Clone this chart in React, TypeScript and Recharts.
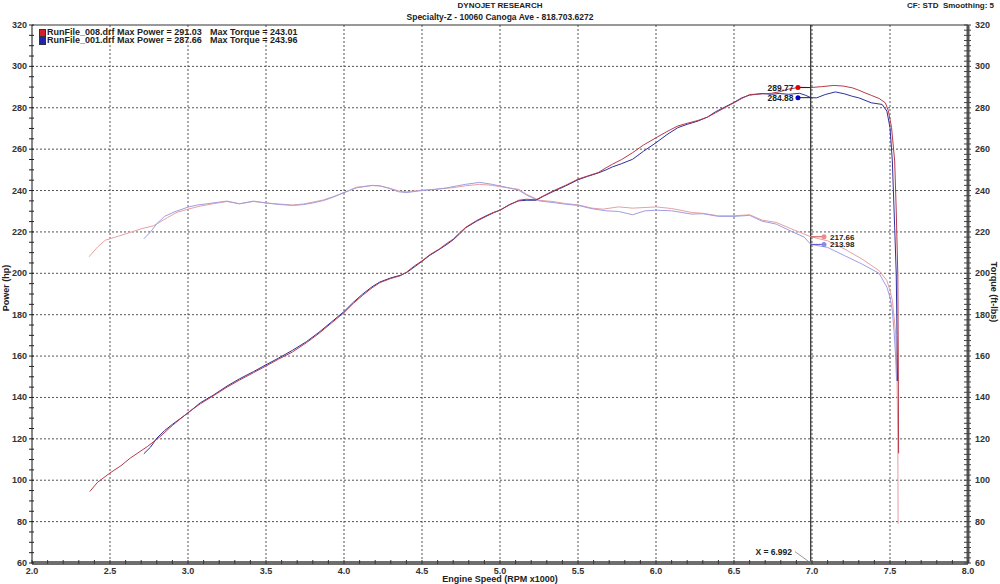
import React from "react";
import {
  LineChart,
  Line,
  XAxis,
  YAxis,
  CartesianGrid,
  ReferenceLine,
  ReferenceDot,
} from "recharts";

// run info
const RUN_NAMES = ["RunFile_008.drf", "RunFile_001.drf"];
const RUN_MAX_POWER = [291.03, 287.66];
const RUN_MAX_TORQUE = [243.01, 243.96];
const RUN_COLORS = ["#d41f2a", "#2323b0"];

const CURSOR_RPM = 6.992;
const CURSOR_POWER = [289.77, 284.88];
const CURSOR_TORQUE = [217.66, 213.98];

const X_LABELS = [2.0, 2.5, 3.0, 3.5, 4.0, 4.5, 5.0, 5.5, 6.0, 6.5, 7.0, 7.5, 8.0];
const Y_LABELS = [60, 80, 100, 120, 140, 160, 180, 200, 220, 240, 260, 280, 300, 320];

// [rpm x1000, hp]
const POWER_008 = [
  [2.37, 94.5], [2.42, 99], [2.5, 103.5], [2.57, 107], [2.63, 110.7], [2.74, 116.3],
  [2.82, 121], [2.9, 126.5], [3.0, 132.7], [3.08, 137], [3.16, 140.7], [3.25, 145],
  [3.33, 148.4], [3.42, 152], [3.5, 155.2], [3.58, 158.5], [3.67, 162], [3.76, 166.5],
  [3.84, 171], [3.92, 176], [4.0, 181], [4.06, 185.5], [4.12, 189.4], [4.18, 193],
  [4.23, 195.5], [4.3, 197.5], [4.36, 198.8], [4.4, 200.5], [4.45, 203.5], [4.5, 206],
  [4.55, 209], [4.61, 211.7], [4.66, 214.5], [4.7, 216.5], [4.74, 219.5], [4.78, 222.2],
  [4.85, 225.5], [4.91, 227.8], [4.96, 229.5], [5.0, 230.5], [5.06, 233], [5.12, 235.3],
  [5.17, 235.8], [5.23, 235.5], [5.28, 237.5], [5.34, 239.8], [5.42, 242.5], [5.5, 245.5],
  [5.56, 247], [5.63, 248.7], [5.68, 251], [5.72, 252.7], [5.78, 255], [5.85, 258.3],
  [5.92, 262], [6.0, 265.5], [6.07, 268.5], [6.14, 271.2], [6.2, 272.5], [6.27, 273.9],
  [6.33, 275.5], [6.38, 277.5], [6.44, 280], [6.5, 282.4], [6.55, 284.5], [6.6, 286.4],
  [6.68, 286.7], [6.74, 287], [6.79, 287.7], [6.85, 289], [6.92, 289.9], [6.992, 289.77],
  [7.06, 290.2], [7.14, 290.8], [7.2, 290.5], [7.26, 289.6], [7.3, 288.5], [7.34, 287.2],
  [7.38, 286], [7.43, 284.5], [7.47, 282.4], [7.49, 278.4], [7.51, 270.4], [7.53, 254.3],
  [7.54, 230.2], [7.55, 199.7], [7.553, 160], [7.555, 113],
];

const POWER_001 = [
  [2.717, 112.8], [2.76, 116], [2.8, 120.3], [2.85, 124], [2.9, 127], [3.0, 132.5],
  [3.08, 137.5], [3.16, 141], [3.25, 145.5], [3.33, 149], [3.42, 152.5], [3.5, 155.8],
  [3.58, 159], [3.67, 162.8], [3.76, 167], [3.84, 171.5], [3.92, 176.5], [4.0, 181.5],
  [4.06, 186], [4.12, 190], [4.18, 193.5], [4.23, 195.8], [4.3, 197.8], [4.36, 199],
  [4.4, 200.3], [4.45, 203], [4.5, 205.8], [4.55, 208.7], [4.61, 211.5], [4.66, 214],
  [4.7, 216.2], [4.74, 219], [4.78, 222], [4.85, 225.2], [4.91, 227.5], [4.96, 229.3],
  [5.0, 230.5], [5.06, 233.2], [5.12, 235], [5.17, 235.3], [5.23, 235.3], [5.28, 237.3],
  [5.34, 239.5], [5.42, 242.2], [5.5, 245.2], [5.56, 246.8], [5.63, 248.5], [5.68, 250],
  [5.72, 251.4], [5.78, 253], [5.85, 255.1], [5.92, 259], [6.0, 263.1], [6.07, 267],
  [6.14, 270.4], [6.2, 272], [6.27, 273.6], [6.33, 275.5], [6.38, 278], [6.44, 280.3],
  [6.5, 282.6], [6.55, 284.8], [6.6, 286.1], [6.68, 286.9], [6.74, 286.5], [6.79, 286.9],
  [6.85, 286.5], [6.92, 287], [6.96, 286], [6.992, 284.88], [7.03, 284.8], [7.085, 286.4],
  [7.15, 287.66], [7.21, 286.7], [7.26, 285.5], [7.3, 284.8], [7.38, 282.4], [7.45, 281.6],
  [7.48, 278.4], [7.5, 270.4], [7.515, 254.3], [7.53, 222.2], [7.54, 199.7], [7.545, 170],
  [7.548, 148],
];

// [rpm x1000, ft-lbs]
const TORQUE_008 = [
  [2.366, 208], [2.42, 212.7], [2.47, 216], [2.5, 216.7], [2.59, 218.8], [2.7, 221.5],
  [2.78, 223], [2.87, 227], [2.93, 229.5], [3.0, 231], [3.08, 232.5], [3.16, 233.6],
  [3.25, 234.7], [3.33, 233.6], [3.42, 234.7], [3.5, 234], [3.58, 233.5], [3.67, 233],
  [3.74, 233.5], [3.8, 234.4], [3.87, 235.5], [3.93, 237], [4.0, 239], [4.08, 241.6],
  [4.18, 242.4], [4.23, 242.2], [4.29, 241.2], [4.35, 239.8], [4.4, 239.4], [4.5, 240.2],
  [4.58, 240.6], [4.66, 241.1], [4.72, 241.6], [4.78, 242.3], [4.87, 243.0], [4.95, 242.5],
  [5.04, 241.4], [5.12, 240.6], [5.17, 238.2], [5.25, 235.3], [5.34, 234.7], [5.42, 233.7],
  [5.5, 233.1], [5.59, 231.5], [5.66, 231], [5.76, 232.1], [5.85, 231.5], [5.93, 231.8],
  [6.0, 232.1], [6.1, 231.3], [6.23, 229.4], [6.3, 229], [6.4, 227.8], [6.5, 227.8],
  [6.6, 228.3], [6.68, 225.7], [6.77, 224.6], [6.87, 221.4], [6.95, 219], [6.992, 217.66],
  [7.1, 215.7], [7.21, 211.7], [7.32, 206.9], [7.43, 201.3], [7.48, 196.5], [7.5, 191.6],
  [7.515, 187], [7.526, 179], [7.536, 171], [7.545, 150], [7.55, 120], [7.552, 79],
];

const TORQUE_001 = [
  [2.717, 216.7], [2.76, 220], [2.8, 224], [2.85, 227.5], [2.91, 229.6], [3.0, 232],
  [3.06, 233], [3.12, 233.6], [3.19, 234.3], [3.25, 234.9], [3.33, 233.6], [3.42, 234.9],
  [3.5, 234], [3.58, 233.3], [3.67, 232.8], [3.74, 233.2], [3.8, 234], [3.87, 235.2],
  [3.93, 236.8], [4.0, 239], [4.08, 241.3], [4.18, 242.5], [4.23, 242.3], [4.29, 241],
  [4.35, 239.4], [4.4, 239], [4.5, 240], [4.58, 240.5], [4.66, 241.3], [4.72, 242.2],
  [4.78, 243], [4.87, 243.96], [4.95, 243], [5.04, 241.6], [5.12, 240.2], [5.17, 237.8],
  [5.25, 235], [5.34, 234.2], [5.42, 233.4], [5.5, 232.8], [5.59, 231.2], [5.68, 230.2],
  [5.76, 229.9], [5.85, 228.3], [5.93, 230.2], [6.0, 230.5], [6.1, 230.2], [6.23, 228.6],
  [6.3, 228.8], [6.4, 227.5], [6.5, 227.5], [6.6, 228], [6.68, 225.2], [6.77, 223.8],
  [6.87, 220.2], [6.95, 217.5], [6.992, 213.98], [7.1, 212.5], [7.21, 208.5], [7.32, 204.5],
  [7.43, 200], [7.48, 193.3], [7.5, 188.4], [7.515, 182], [7.526, 172], [7.536, 160],
  [7.542, 148],
];

const toPts = (arr: number[][]) => arr.map(([x, y]) => ({ x, y }));

const FONT = '"Liberation Sans", Arial, sans-serif';
const W = 1000;
const H = 584;

const X_MINOR = Array.from({ length: 61 }, (_, i) => Math.round((2 + i * 0.1) * 10) / 10);
const L_MINOR = Array.from({ length: 53 }, (_, i) => 60 + i * 5);
const R_MINOR = Array.from({ length: 105 }, (_, i) => 60 + i * 2.5);

const isLabelX = (v: number) => X_LABELS.some((l) => Math.abs(l - v) < 1e-6);
const isLabelY = (v: number) => Y_LABELS.includes(v);

function XTick(props: any) {
  const { x, y, payload } = props;
  const v = payload.value;
  return (
    <g>
      <line x1={x} x2={x} y1={y - 3} y2={y + 1} stroke="#333" />
      {isLabelX(v) && (
        <text x={x} y={y + 10.5} textAnchor="middle" fontSize={9} fontWeight={700} fill="#333" fontFamily={FONT}>
          {v.toFixed(1)}
        </text>
      )}
    </g>
  );
}

function LeftTick(props: any) {
  const { x, y, payload } = props;
  const v = payload.value;
  return (
    <g>
      <line x1={x - 3} x2={x + 2} y1={y} y2={y} stroke="#222" />
      {isLabelY(v) && (
        <text x={x - 5} y={y + 3} textAnchor="end" fontSize={9} fontWeight={700} fill="#333" fontFamily={FONT}>
          {v}
        </text>
      )}
    </g>
  );
}

function RightTick(props: any) {
  const { x, y, payload } = props;
  const v = payload.value;
  return (
    <g>
      <line x1={x - 4} x2={x + 3} y1={y} y2={y} stroke="#444" />
      {isLabelY(v) && (
        <text x={x + 7} y={y + 3} textAnchor="start" fontSize={9} fontWeight={700} fill="#333" fontFamily={FONT}>
          {v}
        </text>
      )}
    </g>
  );
}

const POWER_DOT_X = 6.91;
const TORQUE_DOT_X = 7.077;
const TORQUE_COLORS = ["#ee8c8c", "#8a8aee"];

export default function App() {
  const labelStyle = { fontSize: 8.5, fontWeight: 700, fill: "#222", fontFamily: FONT };
  const smallLabel = { ...labelStyle, fontSize: 8 };
  return (
    <div style={{ position: "absolute", left: 0, top: 0, width: W, height: H, background: "#fff", fontFamily: FONT }}>
      {/* header */}
      <div style={{ position: "absolute", top: 1, left: 0, width: W, textAlign: "center", fontSize: 8, fontWeight: 700, lineHeight: "10px", color: "#222" }}>
        DYNOJET RESEARCH
      </div>
      <div style={{ position: "absolute", top: 11.5, left: 0, width: W, textAlign: "center", fontSize: 8.5, fontWeight: 700, lineHeight: "10px", color: "#222" }}>
        Specialty-Z - 10060 Canoga Ave - 818.703.6272
      </div>
      <div style={{ position: "absolute", top: 1, right: 6, fontSize: 8, fontWeight: 700, lineHeight: "10px", color: "#222", whiteSpace: "pre" }}>
        {"CF: STD  Smoothing: 5"}
      </div>

      <LineChart width={W} height={H} margin={{ top: 25, right: 0, bottom: 0, left: 0 }}>
        <CartesianGrid
          yAxisId="left"
          horizontalValues={Y_LABELS.slice(1, -1)}
          verticalValues={X_LABELS.slice(1, -1)}
          stroke="#555"
          strokeDasharray="2 2"
        />
        <XAxis
          type="number"
          dataKey="x"
          domain={[2, 8]}
          ticks={X_MINOR}
          interval={0}
          height={21}
          tickSize={0}
          tickMargin={0}
          tickLine={false}
          axisLine={{ stroke: "#6e6e6e", strokeWidth: 4 }}
          tick={<XTick />}
          allowDataOverflow
        />
        <YAxis
          yAxisId="left"
          type="number"
          domain={[60, 320]}
          ticks={L_MINOR}
          interval={0}
          width={32}
          tickSize={0}
          tickMargin={0}
          tickLine={false}
          axisLine={{ stroke: "#111", strokeWidth: 1 }}
          tick={<LeftTick />}
          allowDataOverflow
        />
        <YAxis
          yAxisId="right"
          orientation="right"
          type="number"
          domain={[60, 320]}
          ticks={R_MINOR}
          interval={0}
          width={32}
          tickSize={0}
          tickMargin={0}
          tickLine={false}
          axisLine={{ stroke: "#555", strokeWidth: 3 }}
          tick={<RightTick />}
          allowDataOverflow
        />

        <ReferenceLine yAxisId="left" y={320} stroke="#333" strokeWidth={1} />
        <ReferenceLine yAxisId="left" x={CURSOR_RPM} stroke="#000" strokeWidth={1} />

        <Line data={toPts(TORQUE_008)} dataKey="y" yAxisId="right" type="linear" stroke="#e8a0a2" strokeWidth={1} dot={false} isAnimationActive={false} />
        <Line data={toPts(TORQUE_001)} dataKey="y" yAxisId="right" type="linear" stroke="#a09ee2" strokeWidth={1} dot={false} isAnimationActive={false} />
        <Line data={toPts(POWER_001)} dataKey="y" yAxisId="left" type="linear" stroke="#2f2f9c" strokeWidth={1} dot={false} isAnimationActive={false} />
        <Line data={toPts(POWER_008)} dataKey="y" yAxisId="left" type="linear" stroke="#b83a4a" strokeWidth={1} dot={false} isAnimationActive={false} />

        {/* cursor readouts */}
        {CURSOR_POWER.map((v, i) => (
          <ReferenceLine
            key={"ps" + i}
            yAxisId="left"
            segment={[{ x: POWER_DOT_X, y: v }, { x: CURSOR_RPM, y: v }]}
            stroke="#222"
          />
        ))}
        {CURSOR_POWER.map((v, i) => (
          <ReferenceDot
            key={"pd" + i}
            yAxisId="left"
            x={POWER_DOT_X}
            y={v}
            r={2.5}
            fill={i === 0 ? "#e00000" : "#0000c8"}
            stroke="none"
            label={{ value: v.toFixed(2), position: "left", offset: 2, ...labelStyle }}
          />
        ))}
        {CURSOR_TORQUE.map((v, i) => (
          <ReferenceLine
            key={"ts" + i}
            yAxisId="right"
            segment={[{ x: CURSOR_RPM, y: v }, { x: TORQUE_DOT_X, y: v }]}
            stroke={i === 0 ? "#c05050" : "#5050c0"}
          />
        ))}
        {CURSOR_TORQUE.map((v, i) => (
          <ReferenceDot
            key={"td" + i}
            yAxisId="right"
            x={TORQUE_DOT_X}
            y={v}
            r={2.5}
            fill={TORQUE_COLORS[i]}
            stroke="none"
            label={{ value: v.toFixed(2), position: "right", offset: 3.5, ...smallLabel }}
          />
        ))}
        <ReferenceLine
          yAxisId="left"
          segment={[{ x: 6.891, y: 65.5 }, { x: CURSOR_RPM, y: 60 }]}
          stroke="#999"
        />
        <ReferenceDot
          yAxisId="left"
          x={6.885}
          y={65.5}
          r={0}
          fill="none"
          stroke="none"
          label={{ value: `X = ${CURSOR_RPM.toFixed(3)}`, position: "left", offset: 2, ...labelStyle }}
        />
      </LineChart>

      {/* legend */}
      <div style={{ position: "absolute", left: 39, top: 28, fontSize: 9, fontWeight: 700, color: "#222" }}>
        {RUN_NAMES.map((name, i) => (
          <div key={name} style={{ position: "relative", height: 8, lineHeight: "8px", whiteSpace: "pre" }}>
            <span style={{ position: "absolute", left: 0, top: 1, width: 5, height: 6, background: RUN_COLORS[i], border: "1px solid #333" }} />
            <span style={{ position: "absolute", left: 8 }}>{`${name} Max Power = ${RUN_MAX_POWER[i].toFixed(2)}`}</span>
            <span style={{ position: "absolute", left: 171 }}>{`Max Torque = ${RUN_MAX_TORQUE[i].toFixed(2)}`}</span>
          </div>
        ))}
      </div>

      {/* axis titles */}
      <div style={{ position: "absolute", left: 0, top: 574, width: W, textAlign: "center", fontSize: 9, fontWeight: 700, lineHeight: "10px", color: "#222" }}>
        Engine Speed (RPM x1000)
      </div>
      <div style={{ position: "absolute", left: 6, top: 288, transform: "translate(-50%, -50%) rotate(-90deg)", fontSize: 9, fontWeight: 700, color: "#222", whiteSpace: "pre" }}>
        Power (hp)
      </div>
      <div style={{ position: "absolute", left: 994, top: 292, transform: "translate(-50%, -50%) rotate(90deg)", fontSize: 9, fontWeight: 700, color: "#222", whiteSpace: "pre" }}>
        Torque (ft-lbs)
      </div>
    </div>
  );
}
